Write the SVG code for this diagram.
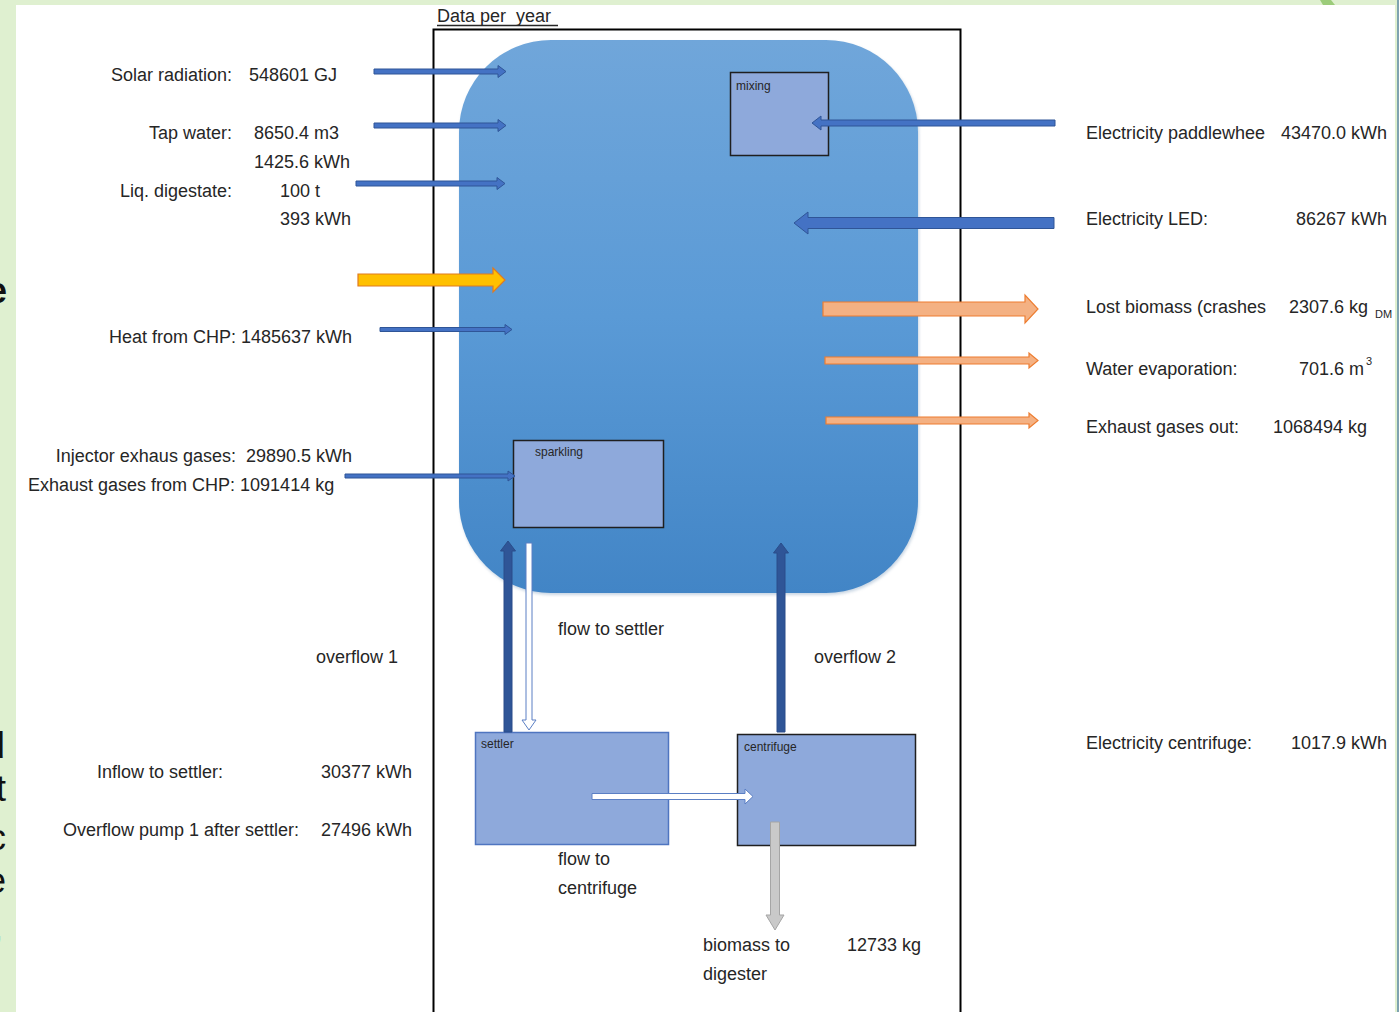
<svg xmlns="http://www.w3.org/2000/svg" width="1399" height="1012" viewBox="0 0 1399 1012">
<style>
  text { font-family: "Liberation Sans", Arial, sans-serif; font-size: 18px; fill: #262626; white-space: pre; }
  .small { font-size: 12px; }
  .frag { font-size: 36px; font-weight: bold; fill: #111; }
  .box { fill: #8EA9DB; stroke: #1f1f1f; stroke-width: 1.5; }
  .boxb { fill: #8EA9DB; stroke: #4F75C0; stroke-width: 1.5; }
  .blue { fill: #4472C4; stroke: #2F5597; stroke-width: 1; }
  .dark { fill: #2F5597; stroke: #2A4D8A; stroke-width: 1; }
  .white { fill: #FFFFFF; stroke: #5B7FC4; stroke-width: 1; }
  .orange { fill: #F4B183; stroke: #ED7D31; stroke-width: 1.2; }
  .yellow { fill: #FFC000; stroke: #E07A1F; stroke-width: 1.2; }
  .gray { fill: #C9C9C9; stroke: #A5A5A5; stroke-width: 1; }
</style>
<defs>
  <linearGradient id="tank" x1="0" y1="0" x2="0" y2="1">
    <stop offset="0" stop-color="#70A6DA"/>
    <stop offset="0.5" stop-color="#5A9AD6"/>
    <stop offset="1" stop-color="#4285C6"/>
  </linearGradient>
  <filter id="soft" x="-5%" y="-5%" width="110%" height="110%">
    <feGaussianBlur stdDeviation="1.5"/>
  </filter>
</defs>

<!-- background slide -->
<rect x="0" y="0" width="1399" height="1012" fill="#DFF0D0"/>
<rect x="16" y="5" width="1379" height="1007" fill="#FFFFFF"/>
<polygon points="1320,0 1331,0 1335,5 1323,5" fill="#9CCC7A"/>
<rect x="1397" y="0" width="2" height="1012" fill="#7FA3B0"/>

<!-- clipped slide text fragments at left edge -->
<g id="edge-text">
  <text class="frag" x="7" y="303" text-anchor="end">e</text>
  <text class="frag" x="5" y="758" text-anchor="end">d</text>
  <text class="frag" x="6" y="801" text-anchor="end" style="font-weight:normal">t</text>
  <text class="frag" x="6" y="850" text-anchor="end" style="font-weight:normal">c</text>
  <text class="frag" x="6" y="893" text-anchor="end" style="font-weight:normal">e</text>
  <text class="frag" x="3" y="940" text-anchor="end" style="font-weight:normal">,</text>
</g>

<!-- frame -->
<g id="frame">
  <rect x="433.5" y="29.5" width="527" height="1000" fill="none" stroke="#000" stroke-width="2"/>
  <text x="437" y="22" xml:space="preserve">Data per  year</text>
  <line x1="437" y1="25.5" x2="558" y2="25.5" stroke="#262626" stroke-width="1.3"/>
</g>

<!-- tank -->
<g id="tank-node">
  <rect x="460" y="42" width="459" height="553" rx="92" ry="92" fill="#9DB4CC" opacity="0.55" filter="url(#soft)"/>
  <rect x="459" y="40" width="459" height="553" rx="92" ry="92" fill="url(#tank)"/>
</g>

<g id="mixing">
  <rect class="box" x="730.5" y="72.5" width="98" height="83"/>
  <text class="small" x="736" y="90">mixing</text>
</g>
<g id="sparkling">
  <rect class="box" x="513.5" y="440.5" width="150" height="87"/>
  <text class="small" x="535" y="456">sparkling</text>
</g>
<g id="settler">
  <rect class="boxb" x="475.5" y="732.5" width="193" height="112"/>
  <text class="small" x="481" y="748">settler</text>
</g>
<g id="centrifuge">
  <rect class="box" x="737.5" y="734.5" width="178" height="111"/>
  <text class="small" x="744" y="751">centrifuge</text>
</g>

<!-- connectors -->
<g id="connectors">
  <polygon class="blue" points="374,69 498,69 498,65.5 506,71.5 498,77.5 498,74 374,74"/>
  <polygon class="blue" points="374,123 498,123 498,119.5 506,125.5 498,131.5 498,128 374,128"/>
  <polygon class="blue" points="356,181 497,181 497,177.5 505,183.5 497,189.5 497,186 356,186"/>
  <polygon class="yellow" points="358,274 493,274 493,268 505,280 493,292 493,286 358,286"/>
  <polygon class="blue" points="380,327.5 505,327.5 505,324.5 512,329.5 505,334.5 505,331.5 380,331.5"/>
  <polygon class="blue" points="345,474 508,474 508,471 515,476 508,481 508,478 345,478"/>
  <polygon class="blue" points="1055,120 821,120 821,116 812,123 821,130 821,126 1055,126"/>
  <polygon class="blue" points="1054,217.5 808,217.5 808,212 794,223 808,234 808,228.5 1054,228.5"/>
  <polygon class="orange" points="823,302 1025,302 1025,295 1038,309 1025,323 1025,316 823,316"/>
  <polygon class="orange" points="825,357 1029,357 1029,353 1038,360.5 1029,368 1029,364 825,364"/>
  <polygon class="orange" points="826,417 1029,417 1029,413 1038,420.5 1029,428 1029,424 826,424"/>
  <polygon class="dark" points="504,732 504,551 500.5,551 508,541 515.5,551 512,551 512,732"/>
  <polygon class="dark" points="777,732 777,553 773.5,553 781,543 788.5,553 785,553 785,732"/>
  <polygon class="white" points="526,543 532,543 532,720 536,720 529,730 522,720 526,720"/>
  <polygon class="white" points="592,793.5 745,793.5 745,789 753,796.5 745,804 745,799.5 592,799.5"/>
  <polygon class="gray" points="770.5,822 779.5,822 779.5,915 784,915 775,930 766,915 770.5,915"/>
</g>

<!-- left labels -->
<g id="left-labels">
  <text x="232" y="81" text-anchor="end">Solar radiation:</text>
  <text x="249" y="81">548601 GJ</text>
  <text x="232" y="139" text-anchor="end">Tap water:</text>
  <text x="254" y="139">8650.4 m3</text>
  <text x="254" y="168">1425.6 kWh</text>
  <text x="232" y="197" text-anchor="end">Liq. digestate:</text>
  <text x="280" y="197">100 t</text>
  <text x="280" y="225">393 kWh</text>
  <text x="352" y="343" text-anchor="end">Heat from CHP: 1485637 kWh</text>
  <text x="352" y="462" text-anchor="end" xml:space="preserve">Injector exhaus gases:  29890.5 kWh</text>
  <text x="28" y="491">Exhaust gases from CHP: 1091414 kg</text>
  <text x="316" y="663">overflow 1</text>
  <text x="97" y="778">Inflow to settler:</text>
  <text x="412" y="778" text-anchor="end">30377 kWh</text>
  <text x="63" y="836">Overflow pump 1 after settler:</text>
  <text x="412" y="836" text-anchor="end">27496 kWh</text>
</g>

<!-- center labels -->
<g id="center-labels">
  <text x="558" y="635">flow to settler</text>
  <text x="814" y="663">overflow 2</text>
  <text x="558" y="865">flow to</text>
  <text x="558" y="894">centrifuge</text>
  <text x="703" y="951">biomass to</text>
  <text x="703" y="980">digester</text>
  <text x="847" y="951">12733 kg</text>
</g>

<!-- right labels -->
<g id="right-labels">
  <text x="1086" y="139">Electricity paddlewhee</text>
  <text x="1387" y="139" text-anchor="end">43470.0 kWh</text>
  <text x="1086" y="225">Electricity LED:</text>
  <text x="1387" y="225" text-anchor="end">86267 kWh</text>
  <text x="1086" y="313">Lost biomass (crashes</text>
  <text x="1289" y="313">2307.6 kg</text>
  <text x="1375" y="318" style="font-size:11px">DM</text>
  <text x="1086" y="375">Water evaporation:</text>
  <text x="1299" y="375">701.6 m</text>
  <text x="1366" y="365" style="font-size:11px">3</text>
  <text x="1086" y="433">Exhaust gases out:</text>
  <text x="1273" y="433">1068494 kg</text>
  <text x="1086" y="749">Electricity centrifuge:</text>
  <text x="1387" y="749" text-anchor="end">1017.9 kWh</text>
</g>
</svg>
